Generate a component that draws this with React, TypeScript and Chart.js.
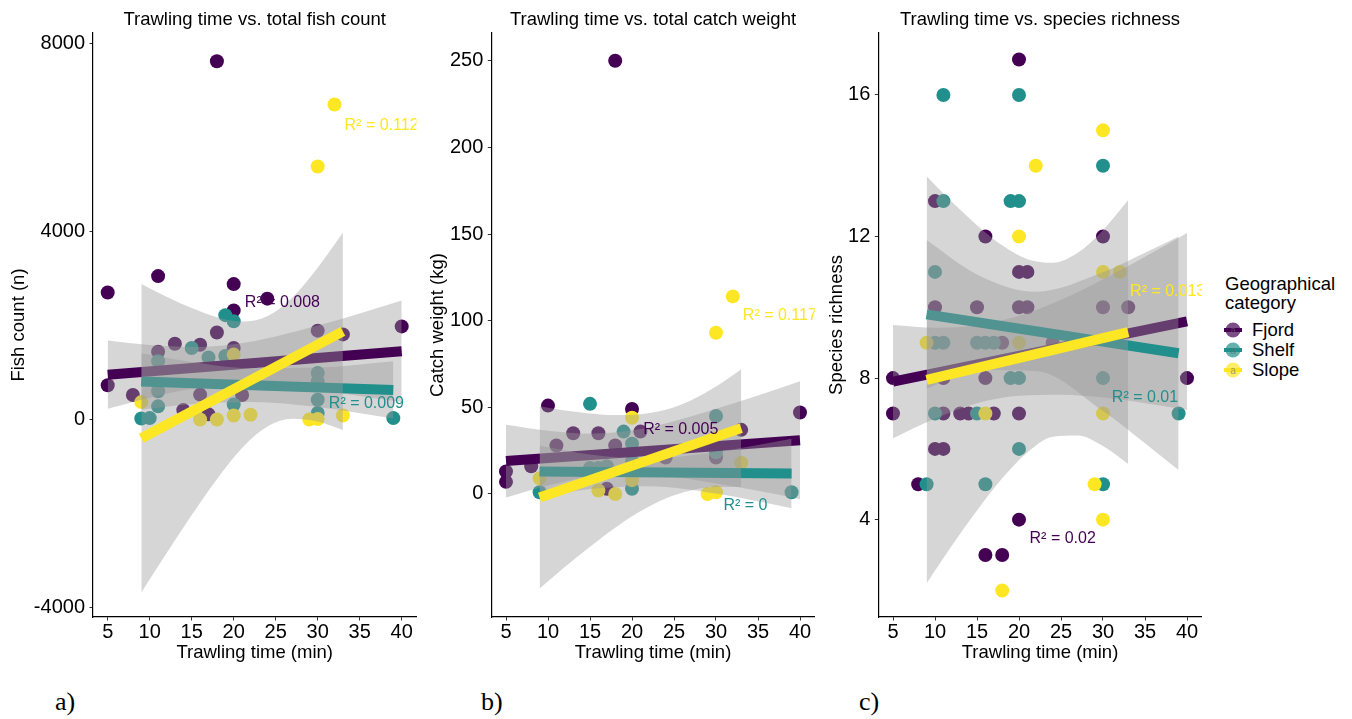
import React, { useEffect, useRef } from 'react';
import { Chart, registerables } from 'chart.js';

Chart.register(...registerables);

const FONT = '"Liberation Sans", Arial, Helvetica, sans-serif';
Chart.defaults.font.family = FONT;

const groupNames = ['Fjord', 'Shelf', 'Slope'];
const groupColors = ['#440154', '#21908C', '#FDE725'];
const xTicks = [5, 10, 15, 20, 25, 30, 35, 40];

// a) total fish count: [trawling time (min), count]
const fishFjord = [[5, 2700], [5, 730], [8, 520], [11, 3050], [11, 1440], [13, 1610], [14, 200], [16, 1590], [16, 530], [17, 110], [18, 7620], [18, 1850], [20, 2880], [20, 2320], [20, 1520], [21, 520], [24, 2570], [30, 1890], [33, 1810], [40, 1980]];
const fishShelf = [[9, 20], [10, 30], [11, 1240], [11, 600], [11, 280], [15, 1520], [17, 1320], [19, 1350], [19, 2220], [20, 2090], [20, 320], [30, 990], [30, 810], [30, 420], [30, 140], [39, 30]];
const fishSlope = [[9, 370], [16, 0], [18, 0], [20, 85], [20, 1380], [22, 100], [29, 0], [30, 10], [30, 5380], [32, 6700], [33, 85]];
// lm fits: [time, lower CI, fit, upper CI]
const fishFjordFit = [[5, 228, 953, 1678], [10, 465, 1024, 1583], [15, 648, 1095, 1542], [20, 730, 1166, 1602], [25, 706, 1237, 1768], [30, 619, 1308, 1997], [35, 502, 1379, 2256], [40, 370, 1450, 2530]];
const fishShelfFit = [[9, 210, 810, 1410], [15, 324, 774, 1224], [22, 372, 732, 1092], [30, 264, 684, 1104], [39, 20, 630, 1240]];
const fishSlopeFit = [[9, -3680, -399, 2882], [12, -2843, -115, 2613], [15, -2031, 170, 2371], [18, -1268, 454, 2176], [21, -606, 739, 2084], [24, -150, 1023, 2196], [27, 17, 1307, 2597], [30, -44, 1592, 3228], [33, -224, 1876, 3976]];
const fishTicks = [-4000, 0, 4000, 8000];
const fishR2 = ['R² = 0.008', 'R² = 0.009', 'R² = 0.112'];
const fishR2At = [[25.8, 2480], [35.8, 330], [37.6, 6250]];

// b) total catch weight (kg)
const weightFjord = [[5, 13], [5, 7], [8, 16], [10, 51], [11, 28], [13, 35], [16, 35], [17, 3], [18, 250], [18, 28], [20, 49], [21, 36], [24, 21], [30, 21], [33, 37], [40, 47]];
const weightShelf = [[9, 1], [15, 52], [15, 15], [16, 15], [17, 16], [19, 36], [20, 29], [20, 19], [20, 3], [30, 45], [30, 24], [39, 1]];
const weightSlope = [[9, 9], [16, 2], [18, 0], [20, 44], [20, 8], [29, 0], [30, 1], [30, 93], [32, 114], [33, 18]];
const weightFjordFit = [[5, -2, 19, 40], [10, 4.9, 20.7, 36.5], [15, 10, 22.4, 34.8], [20, 11.5, 24.1, 36.7], [25, 9.8, 25.9, 42], [30, 6.1, 27.6, 49.1], [35, 1.8, 29.3, 56.8], [40, -3, 31, 65]];
const weightShelfFit = [[9, -2, 13, 28], [15, 2.8, 12.8, 22.8], [22, 4.5, 12.5, 20.5], [30, 0.2, 12.2, 24.2], [39, -8.2, 11.8, 31.8]];
const weightSlopeFit = [[9, -54.6, -2, 50.6], [12, -42.2, 3, 48.2], [15, -30.5, 8, 46.5], [18, -19.5, 13, 45.5], [21, -10, 18, 46], [24, -2.6, 23, 48.6], [27, 2, 28, 54], [30, 4, 33, 62], [33, 4, 38, 72]];
const weightTicks = [0, 50, 100, 150, 200, 250];
const weightR2 = ['R² = 0.005', 'R² = 0', 'R² = 0.117'];
const weightR2At = [[25.8, 37.4], [33.5, -6.9], [37.6, 103]];

// c) species richness
const richFjord = [[5, 8], [5, 7], [8, 5], [10, 13], [10, 10], [11, 8], [11, 7], [10, 6], [11, 6], [13, 7], [14, 7], [15, 10], [16, 12], [16, 8], [16, 3], [17, 7], [18, 9], [18, 3], [20, 17], [20, 11], [21, 11], [20, 10], [21, 10], [20, 7], [20, 4], [24, 9], [30, 12], [30, 10], [33, 10], [40, 8]];
const richShelf = [[9, 5], [10, 11], [10, 9], [10, 7], [11, 16], [11, 13], [11, 9], [15, 9], [15, 7], [16, 9], [16, 5], [17, 9], [19, 13], [19, 8], [20, 16], [20, 13], [20, 8], [20, 6], [30, 14], [30, 8], [30, 5], [39, 7]];
const richSlope = [[9, 9], [16, 7], [18, 2], [20, 12], [20, 9], [22, 14], [29, 5], [30, 15], [30, 11], [30, 7], [30, 4], [32, 11]];
const richFjordFit = [[5, 6.3, 7.9, 9.5], [10, 6.86, 8.14, 9.42], [15, 7.29, 8.39, 9.49], [20, 7.5, 8.63, 9.76], [25, 7.53, 8.87, 10.21], [30, 7.45, 9.12, 10.79], [35, 7.29, 9.36, 11.43], [40, 7.1, 9.6, 12.1]];
const richShelfFit = [[9, 7.7, 9.8, 11.9], [15, 8.23, 9.58, 10.93], [22, 8.2, 9.32, 10.44], [30, 7.07, 9.03, 10.99], [35, 6.16, 8.85, 11.54], [39, 5.4, 8.7, 12]];
const richSlopeFit = [[9, 2.2, 7.95, 13.7], [12, 3.26, 8.12, 12.98], [15, 4.26, 8.29, 12.32], [18, 5.17, 8.46, 11.75], [21, 5.9, 8.63, 11.36], [24, 6.34, 8.8, 11.26], [27, 6.38, 8.96, 11.54], [30, 6.08, 9.13, 12.18], [33, 5.57, 9.3, 13.03]];
const richTicks = [4, 8, 12, 16];
const richR2 = ['R² = 0.02', 'R² = 0.01', 'R² = 0.013'];
const richR2At = [[25.2, 3.47], [35, 7.46], [37.7, 10.44]];

interface PanelProps {
  title: string;
  yTitle: string;
  yMin: number;
  yMax: number;
  yTicks: number[];
  points: number[][][];
  fits: number[][][];
  r2: string[];
  r2At: number[][];
  left: number;
  width: number;
  axisWidth: number;
  yTitlePad: number;
}

const HEIGHT = 672;
const PLOT_WIDTH = 323.4;

const Panel: React.FC<PanelProps> = (p) => {
  const chartRef = useRef<HTMLCanvasElement>(null);

  useEffect(() => {
    if (!chartRef.current) return;

    const datasets: any[] = [];
    // points go underneath everything
    p.points.forEach((pts, i) => {
      datasets.push({
        data: pts.map(([x, y]) => ({ x, y })),
        backgroundColor: groupColors[i],
        pointBackgroundColor: groupColors[i],
        pointRadius: 7,
        pointBorderWidth: 0,
        showLine: false,
        clip: 0,
        order: 100 - i,
      });
    });
    // per group: ribbon, then its line (later groups cover earlier ones)
    p.fits.forEach((fit, i) => {
      const order = 60 - i * 20;
      datasets.push({
        data: fit.map((r) => ({ x: r[0], y: r[3] })),
        showLine: true,
        borderColor: 'rgba(0,0,0,0)',
        borderWidth: 1,
        pointRadius: 0,
        cubicInterpolationMode: 'monotone',
        fill: false,
        clip: 0,
        order,
      });
      datasets.push({
        data: fit.map((r) => ({ x: r[0], y: r[1] })),
        showLine: true,
        borderColor: 'rgba(0,0,0,0)',
        borderWidth: 1,
        pointRadius: 0,
        cubicInterpolationMode: 'monotone',
        fill: '-1',
        backgroundColor: 'rgba(153,153,153,0.4)',
        clip: 0,
        order,
      });
      const ends = [fit[0], fit[fit.length - 1]];
      datasets.push({
        data: ends.map((r) => ({ x: r[0], y: r[2] })),
        showLine: true,
        borderColor: groupColors[i],
        borderWidth: 10,
        borderCapStyle: 'butt',
        pointRadius: 0,
        fill: false,
        clip: 0,
        order: order - 10,
      });
    });

    const textPlugin = {
      id: 'panelText',
      afterDatasetsDraw(chart: Chart) {
        const { ctx, chartArea, scales } = chart;
        ctx.save();
        ctx.beginPath();
        ctx.rect(chartArea.left, chartArea.top, chartArea.right - chartArea.left, chartArea.bottom - chartArea.top);
        ctx.clip();
        ctx.font = `16px ${FONT}`;
        ctx.textAlign = 'center';
        ctx.textBaseline = 'middle';
        p.r2.forEach((t, i) => {
          ctx.fillStyle = groupColors[i];
          ctx.fillText(t, scales.x.getPixelForValue(p.r2At[i][0]), scales.y.getPixelForValue(p.r2At[i][1]));
        });
        ctx.restore();
      },
      afterDraw(chart: Chart) {
        const { ctx, chartArea } = chart;
        ctx.save();
        ctx.font = `18.5px ${FONT}`;
        ctx.fillStyle = '#000';
        ctx.textAlign = 'center';
        ctx.textBaseline = 'alphabetic';
        ctx.fillText(p.title, (chartArea.left + chartArea.right) / 2, 25);
        ctx.restore();
      },
    };

    const chart = new Chart(chartRef.current, {
      type: 'scatter',
      data: { datasets },
      plugins: [textPlugin],
      options: {
        animation: false,
        responsive: true,
        maintainAspectRatio: false,
        events: [],
        layout: { padding: { top: 33, left: 0, right: p.width - p.axisWidth - PLOT_WIDTH, bottom: 0 } },
        plugins: { legend: { display: false }, tooltip: { enabled: false } },
        scales: {
          x: {
            type: 'linear',
            min: 3.25,
            max: 41.75,
            afterBuildTicks: (s: any) => {
              s.ticks = xTicks.map((v) => ({ value: v }));
            },
            afterFit: (s: any) => {
              s.height = 55;
            },
            grid: { drawOnChartArea: false, drawTicks: true, tickLength: 3.5, tickColor: '#333' },
            border: { display: true, color: '#000', width: 1.2 },
            ticks: { color: '#000', font: { size: 20 }, padding: 0, maxRotation: 0, autoSkip: false, callback: (v: any) => String(v) },
            title: { display: true, text: 'Trawling time (min)', color: '#000', font: { size: 18.5 }, padding: { top: 0, bottom: 8 } },
          },
          y: {
            type: 'linear',
            min: p.yMin,
            max: p.yMax,
            afterBuildTicks: (s: any) => {
              s.ticks = p.yTicks.map((v) => ({ value: v }));
            },
            afterFit: (s: any) => {
              s.width = p.axisWidth;
            },
            grid: { drawOnChartArea: false, drawTicks: true, tickLength: 3.5, tickColor: '#333' },
            border: { display: true, color: '#000', width: 1.2 },
            ticks: { color: '#000', font: { size: 20 }, padding: 4.5, autoSkip: false, callback: (v: any) => String(v) },
            title: { display: true, text: p.yTitle, color: '#000', font: { size: 18.5 }, padding: { top: p.yTitlePad, bottom: 0 } },
          },
        },
      },
    });

    return () => {
      chart.destroy();
    };
  }, [p]);

  return (
    <div style={{ position: 'absolute', left: p.left, top: 0, width: p.width, height: HEIGHT }}>
      <canvas ref={chartRef} />
    </div>
  );
};

const panels: PanelProps[] = [
  {
    title: 'Trawling time vs. total fish count',
    yTitle: 'Fish count (n)',
    yMin: -4200,
    yMax: 8220,
    yTicks: fishTicks,
    points: [fishFjord, fishShelf, fishSlope],
    fits: [fishFjordFit, fishShelfFit, fishSlopeFit],
    r2: fishR2,
    r2At: fishR2At,
    left: 0,
    width: 430,
    axisWidth: 93,
    yTitlePad: 8,
  },
  {
    title: 'Trawling time vs. total catch weight',
    yTitle: 'Catch weight (kg)',
    yMin: -71,
    yMax: 266,
    yTicks: weightTicks,
    points: [weightFjord, weightShelf, weightSlope],
    fits: [weightFjordFit, weightShelfFit, weightSlopeFit],
    r2: weightR2,
    r2At: weightR2At,
    left: 420,
    width: 408,
    axisWidth: 71.3,
    yTitlePad: 6.9,
  },
  {
    title: 'Trawling time vs. species richness',
    yTitle: 'Species richness',
    yMin: 1.25,
    yMax: 17.75,
    yTicks: richTicks,
    points: [richFjord, richShelf, richSlope],
    fits: [richFjordFit, richShelfFit, richSlopeFit],
    r2: richR2,
    r2At: richR2At,
    left: 815,
    width: 400,
    axisWidth: 63.3,
    yTitlePad: 10.9,
  },
];

const LegendKey: React.FC<{ color: string }> = ({ color }) => (
  <svg width={20} height={20} style={{ display: 'block' }}>
    <circle cx={10} cy={10} r={7.5} fill={color} opacity={0.7} />
    <line x1={1} x2={19} y1={10} y2={10} stroke={color} strokeWidth={4} />
    <text x={10} y={13.5} fontSize={10} textAnchor="middle" fill="#666" opacity={0.6} fontFamily={FONT}>
      a
    </text>
  </svg>
);

export default function App() {
  return (
    <div style={{ position: 'fixed', left: 0, top: 0, width: 1352, height: 719, background: '#fff', overflow: 'hidden' }}>
      {panels.map((p) => (
        <Panel key={p.title} {...p} />
      ))}
      <div style={{ position: 'absolute', left: 1225, top: 274, fontFamily: FONT, fontSize: 18.5, lineHeight: '19px', color: '#000' }}>
        Geographical
        <br />
        category
      </div>
      {groupNames.map((g, i) => (
        <div
          key={g}
          style={{ position: 'absolute', left: 1223, top: 320 + i * 20, height: 20, display: 'flex', alignItems: 'center', fontFamily: FONT, fontSize: 18.5, color: '#000' }}
        >
          <LegendKey color={groupColors[i]} />
          <span style={{ marginLeft: 9 }}>{g}</span>
        </div>
      ))}
      {['a)', 'b)', 'c)'].map((t, i) => (
        <div
          key={t}
          style={{ position: 'absolute', left: [55, 481, 859][i], top: 687, fontFamily: '"Liberation Serif", "Times New Roman", serif', fontSize: 26, lineHeight: '30px', color: '#000' }}
        >
          {t}
        </div>
      ))}
    </div>
  );
}
